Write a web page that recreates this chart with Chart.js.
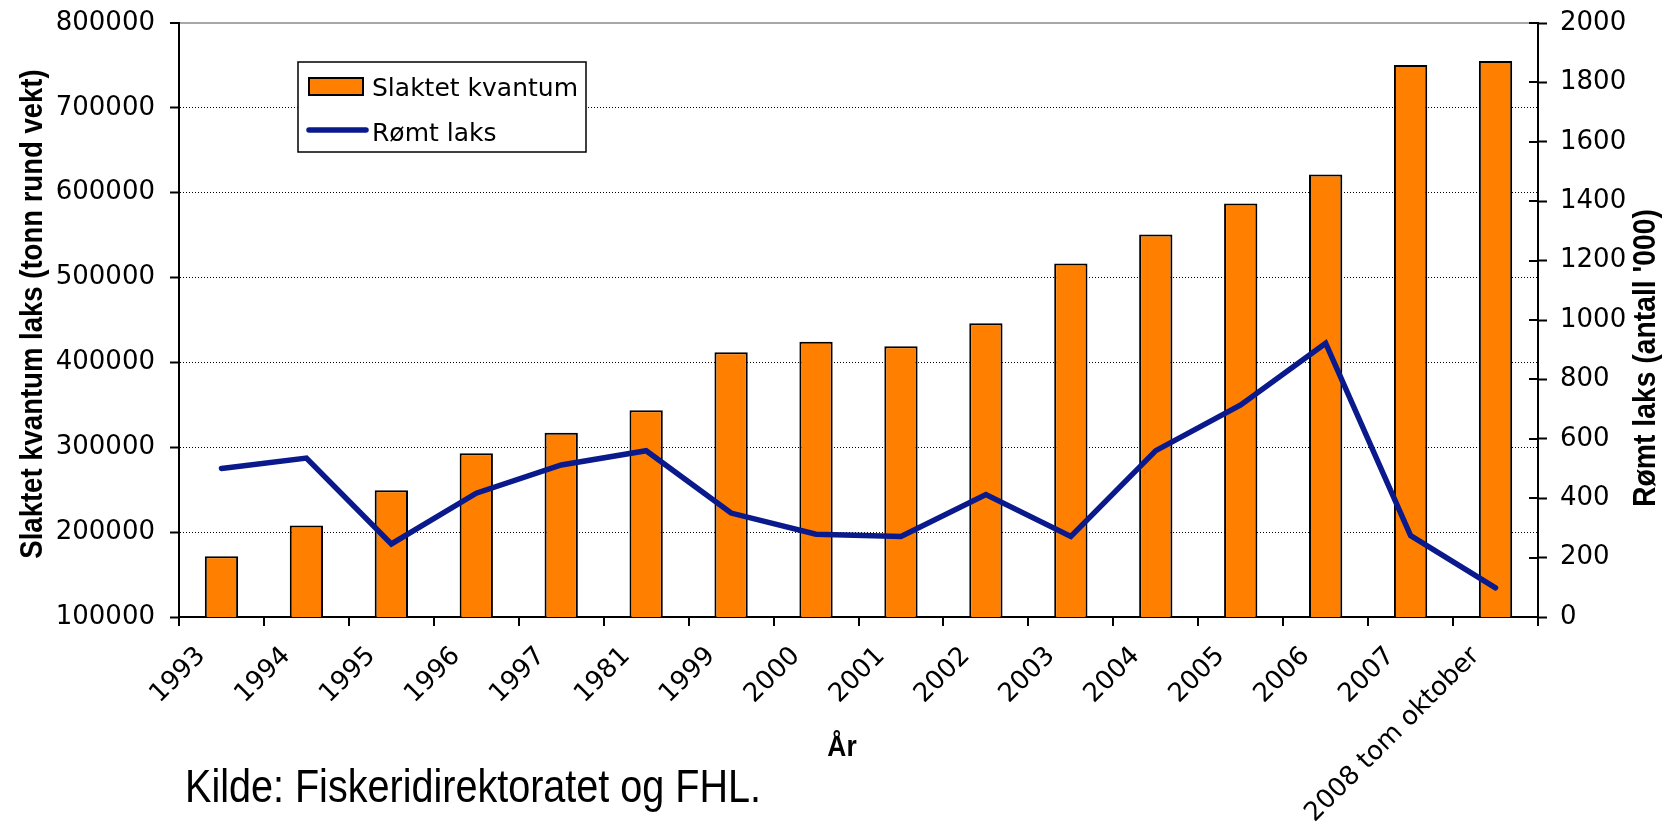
<!DOCTYPE html>
<html>
<head>
<meta charset="utf-8">
<script src="https://cdn.jsdelivr.net/npm/chart.js@4.4.1/dist/chart.umd.min.js"></script>
<style>
html,body{margin:0;padding:0;background:#fff;}
#wrap{width:1664px;height:823px;position:relative;}
</style>
</head>
<body>
<div id="wrap"><canvas id="c" width="1664" height="823"></canvas></div>
<script>
// ---- data ----
const categories = ['1993','1994','1995','1996','1997','1981','1999','2000','2001','2002','2003','2004','2005','2006','2007','2008 tom oktober'];
const slaktetKvantum = [171500, 207700, 249300, 292900, 317000, 343600, 412000, 424300, 419100, 446200, 516600, 550800, 587400, 621600, 750500, 755200];
const romtLaks = [500, 535, 246, 417, 512, 560, 350, 279, 271, 412, 271, 560, 714, 922, 274, 98];
const leftTicks = [100000, 200000, 300000, 400000, 500000, 600000, 700000, 800000];
const rightTicks = [0, 200, 400, 600, 800, 1000, 1200, 1400, 1600, 1800, 2000];
const seriesNames = ['Slaktet kvantum', 'Rømt laks'];
const leftTitle = 'Slaktet kvantum laks (tonn rund vekt)';
const rightTitle = "Rømt laks (antall '000)";
const xTitle = 'År';
const sourceText = 'Kilde: Fiskeridirektoratet og FHL.';

const ORANGE = '#FF8000';
const NAVY = '#0a1a8c';
const TICK_FONT = {family: 'DejaVu Sans', size: 26};

function scaledText(ctx, text, x, y, font, sx, rot, align, baseline) {
  ctx.save();
  ctx.translate(x, y);
  ctx.rotate(rot);
  ctx.scale(sx, 1);
  ctx.font = font;
  ctx.fillStyle = '#000';
  ctx.textAlign = align;
  ctx.textBaseline = baseline;
  ctx.fillText(text, 0, 0);
  ctx.restore();
}

function noPad(s) {
  s.paddingTop = 0; s.paddingBottom = 0; s.paddingLeft = 0; s.paddingRight = 0;
}

const overlay = {
  id: 'overlay',
  afterDraw(chart) {
    const ctx = chart.ctx;
    const r = chart.scales.y1;
    // inward tick marks on the right axis
    ctx.save();
    ctx.strokeStyle = '#000';
    ctx.lineWidth = 2;
    r.ticks.forEach(t => {
      const py = Math.round(r.getPixelForValue(t.value));
      ctx.beginPath();
      ctx.moveTo(r.left - 9, py);
      ctx.lineTo(r.left, py);
      ctx.stroke();
    });
    ctx.restore();

    // legend box
    ctx.save();
    ctx.fillStyle = '#fff';
    ctx.fillRect(298, 62, 288, 90);
    ctx.strokeStyle = '#000';
    ctx.lineWidth = 1.5;
    ctx.strokeRect(298, 62, 288, 90);
    ctx.fillStyle = ORANGE;
    ctx.fillRect(309, 78, 54, 17);
    ctx.lineWidth = 2;
    ctx.strokeRect(309, 78, 54, 17);
    ctx.strokeStyle = NAVY;
    ctx.lineWidth = 5.5;
    ctx.lineCap = 'round';
    ctx.beginPath();
    ctx.moveTo(309, 130);
    ctx.lineTo(366, 130);
    ctx.stroke();
    ctx.fillStyle = '#000';
    ctx.font = '25px "DejaVu Sans"';
    ctx.textAlign = 'left';
    ctx.textBaseline = 'alphabetic';
    ctx.fillText(seriesNames[0], 372, 96);
    ctx.fillText(seriesNames[1], 372, 141);
    ctx.restore();

    // titles
    scaledText(ctx, leftTitle, 33, 314, 'bold 32px "Liberation Sans"', 0.86, -Math.PI / 2, 'center', 'middle');
    scaledText(ctx, rightTitle, 1646, 358, 'bold 32px "Liberation Sans"', 0.885, -Math.PI / 2, 'center', 'middle');
    scaledText(ctx, xTitle, 842, 756, 'bold 30px "Liberation Sans"', 0.88, 0, 'center', 'alphabetic');
    scaledText(ctx, sourceText, 185, 802, '46px "Liberation Sans"', 0.86, 0, 'left', 'alphabetic');
  }
};

new Chart(document.getElementById('c'), {
  data: {
    labels: categories,
    datasets: [
      {
        type: 'line',
        label: seriesNames[1],
        data: romtLaks,
        yAxisID: 'y1',
        borderColor: NAVY,
        borderWidth: 5.5,
        pointRadius: 0,
        tension: 0,
        borderCapStyle: 'round',
        borderJoinStyle: 'miter',
        order: 0
      },
      {
        type: 'bar',
        label: seriesNames[0],
        data: slaktetKvantum,
        yAxisID: 'y',
        backgroundColor: ORANGE,
        borderColor: '#000',
        borderWidth: 2,
        barPercentage: 0.392,
        categoryPercentage: 1,
        order: 1
      }
    ]
  },
  options: {
    responsive: false,
    animation: false,
    devicePixelRatio: 1,
    layout: {padding: {top: 23, left: 0, right: 0, bottom: 0}},
    plugins: {legend: {display: false}, tooltip: {enabled: false}},
    scales: {
      x: {
        type: 'category',
        offset: true,
        grid: {offset: true, drawOnChartArea: false, tickLength: 9, tickWidth: 2, tickColor: '#000', color: '#000', lineWidth: 2},
        border: {display: true, color: '#000', width: 2},
        ticks: {autoSkip: false, maxRotation: 45, minRotation: 45, padding: 15, labelOffset: -20, color: '#000', font: TICK_FONT},
        afterFit(s) { s.height = 206; noPad(s); }
      },
      y: {
        position: 'left',
        min: leftTicks[0],
        max: leftTicks[leftTicks.length - 1],
        ticks: {stepSize: leftTicks[1] - leftTicks[0], padding: 15, color: '#000', font: TICK_FONT, callback: v => String(v)},
        grid: {
          drawOnChartArea: true,
          color: c => {
            const v = c.tick ? c.tick.value : null;
            if (v === leftTicks[leftTicks.length - 1]) return '#a8a8a8';
            if (v === leftTicks[0]) return 'rgba(0,0,0,0)';
            return '#000';
          },
          lineWidth: c => (c.tick && c.tick.value === leftTicks[leftTicks.length - 1]) ? 2 : 1,
          tickColor: '#000', tickWidth: 2, tickLength: 9
        },
        border: {
          display: true, color: '#000', width: 2,
          dash: c => (c.tick && c.tick.value === leftTicks[leftTicks.length - 1]) ? [] : [1, 2]
        },
        afterFit(s) { s.width = 179; noPad(s); }
      },
      y1: {
        position: 'right',
        min: rightTicks[0],
        max: rightTicks[rightTicks.length - 1],
        ticks: {stepSize: rightTicks[1] - rightTicks[0], padding: 13, color: '#000', font: TICK_FONT, callback: v => String(v)},
        grid: {drawOnChartArea: false, tickColor: '#000', tickWidth: 2, tickLength: 9, color: '#000'},
        border: {display: true, color: '#000', width: 2},
        afterFit(s) { s.width = 126; noPad(s); }
      }
    }
  },
  plugins: [overlay]
});
</script>
</body>
</html>
